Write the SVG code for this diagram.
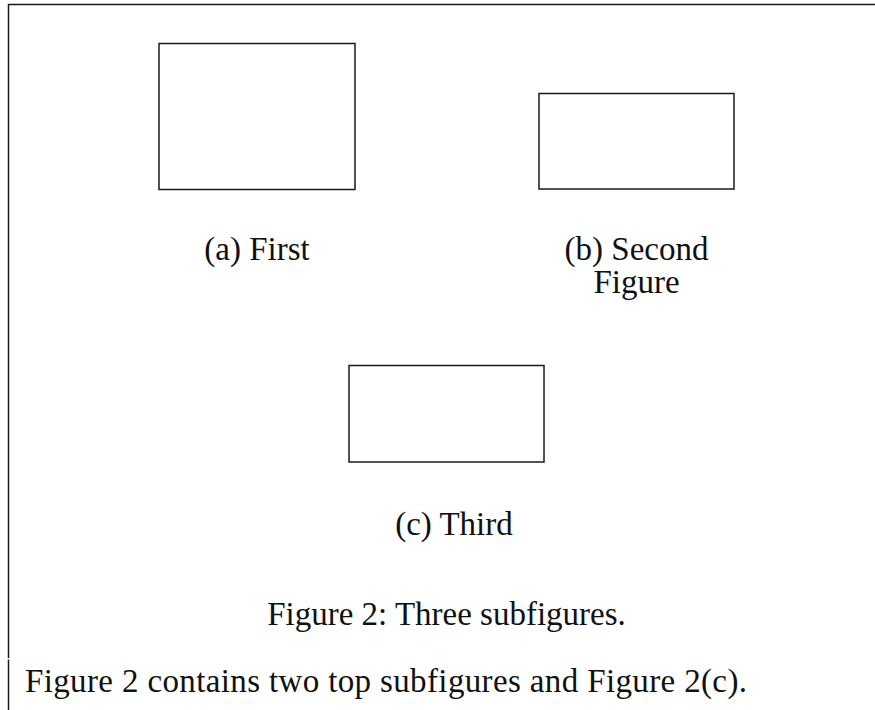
<svg xmlns="http://www.w3.org/2000/svg" width="875" height="710" viewBox="0 0 875 710">
<style>
.box{fill:#fff;stroke:#1a1a1a;stroke-width:1.5}
.rule{stroke:#1a1a1a;stroke-width:1.5;fill:none}
text{font-family:"Liberation Serif","Times New Roman",serif;font-size:33px;fill:#111}
.c{text-anchor:middle}
</style>
<rect width="875" height="710" fill="#fff"/>
<g id="frame">
<path class="rule" d="M8.5,4.5 H875 M8.5,4 V658"/>
<path class="rule" d="M8.5,659.5 V710"/>
</g>
<g id="sub-a">
<rect class="box" x="159" y="43.5" width="196" height="146"/>
<text class="c" x="257" y="260">(a) First</text>
</g>
<g id="sub-b">
<rect class="box" x="539" y="93.5" width="195" height="95.5"/>
<text class="c" x="636.5" y="260">(b) Second</text>
<text class="c" x="636.5" y="293">Figure</text>
</g>
<g id="sub-c">
<rect class="box" x="349" y="365.5" width="195" height="96.5"/>
<text class="c" x="454" y="535">(c) Third</text>
</g>
<g id="caption">
<text class="c" x="446.5" y="625">Figure 2: Three subfigures.</text>
</g>
<g id="body">
<text x="25" y="692" textLength="722" lengthAdjust="spacing">Figure 2 contains two top subfigures and Figure 2(c).</text>
</g>
<g id="connectors"></g>
</svg>
